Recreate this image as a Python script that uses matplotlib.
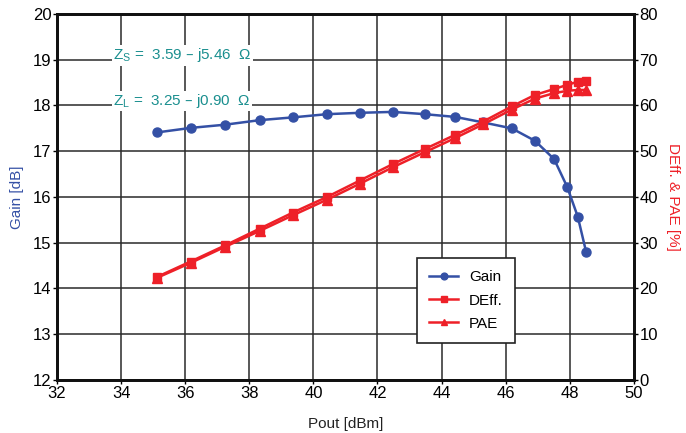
import matplotlib
matplotlib.use("Agg")
import matplotlib.pyplot as plt
from matplotlib.lines import Line2D

plt.rcParams['font.family'] = ['Liberation Sans', 'DejaVu Sans']
plt.rcParams['mathtext.default'] = 'regular'

pout = [35.11, 36.17, 37.24, 38.33, 39.36, 40.42, 41.45, 42.48, 43.48, 44.43,
        45.30, 46.19, 46.91, 47.51, 47.92, 48.25, 48.51]
gain = [17.41, 17.51, 17.58, 17.68, 17.74, 17.81, 17.84, 17.86, 17.81, 17.75,
        17.63, 17.50, 17.23, 16.83, 16.22, 15.57, 14.80]
deff = [22.5, 25.9, 29.4, 33.1, 36.6, 40.0, 43.6, 47.2, 50.5, 53.6,
        56.5, 59.8, 62.3, 63.6, 64.5, 65.2, 65.4]
pae = [22.3, 25.6, 29.1, 32.6, 36.0, 39.4, 42.9, 46.5, 49.8, 52.9,
       55.9, 59.1, 61.5, 62.7, 63.2, 63.4, 63.4]

xticks = list(range(32, 51, 2))
gticks = list(range(12, 21))
pticks = list(range(0, 81, 10))

blue = '#3450a5'
red = '#ee2028'
teal = '#1a8f8f'

fig = plt.figure(figsize=(6.86, 4.33), dpi=100)
ax = fig.add_axes([0.0831, 0.1224, 0.8409, 0.8453])
ax2 = ax.twinx()

ax.set_xlim(32, 50)
ax.set_ylim(12, 20)
ax2.set_ylim(0, 80)
ax.set_xticks(xticks)
ax.set_yticks(gticks)
ax2.set_yticks(pticks)

ax.grid(True, color='#2a2a2a', linewidth=1.1)
ax.set_axisbelow(True)

for a in (ax, ax2):
    for s in a.spines.values():
        s.set_linewidth(2)
        s.set_color('#111111')
    a.tick_params(labelsize=12, length=3, width=1, pad=1, direction='out')

l1, = ax.plot(pout, gain, '-o', color=blue, lw=1.8, ms=6.5, label='Gain', zorder=3)
l2, = ax2.plot(pout, deff, '-s', color=red, lw=1.8, ms=6, label='DEff.', zorder=3)
l3, = ax2.plot(pout, pae, '-^', color=red, lw=1.8, ms=6.5, label='PAE', zorder=3)

ax.set_xlabel('Pout [dBm]', fontsize=11, labelpad=12, color='#222222')
ax.set_ylabel('Gain [dB]', fontsize=11, color=blue, labelpad=6)
ax2.set_ylabel('DEff. & PAE [%]', fontsize=11, color=red, rotation=270, labelpad=16)

bbox = dict(facecolor='white', edgecolor='none', pad=1)
ax.text(33.75, 19.1, r'$Z_S$ =  3.59 – j5.46  Ω', color=teal, fontsize=11,
        va='center', ha='left', bbox=bbox)
ax.text(33.75, 18.1, r'$Z_L$ =  3.25 – j0.90  Ω', color=teal, fontsize=11,
        va='center', ha='left', bbox=bbox)

leg = ax2.legend(handles=[l1, l2, l3], loc='upper left',
                 bbox_to_anchor=(0.624, 0.333), borderaxespad=0,
                 frameon=True, fancybox=False, framealpha=1,
                 edgecolor='#222222', fontsize=11, handlelength=1.9,
                 handletextpad=0.7, borderpad=0.8, labelspacing=0.6,
                 markerscale=0.75)
leg.get_frame().set_linewidth(1.2)

fig.savefig('out.png', dpi=100)
